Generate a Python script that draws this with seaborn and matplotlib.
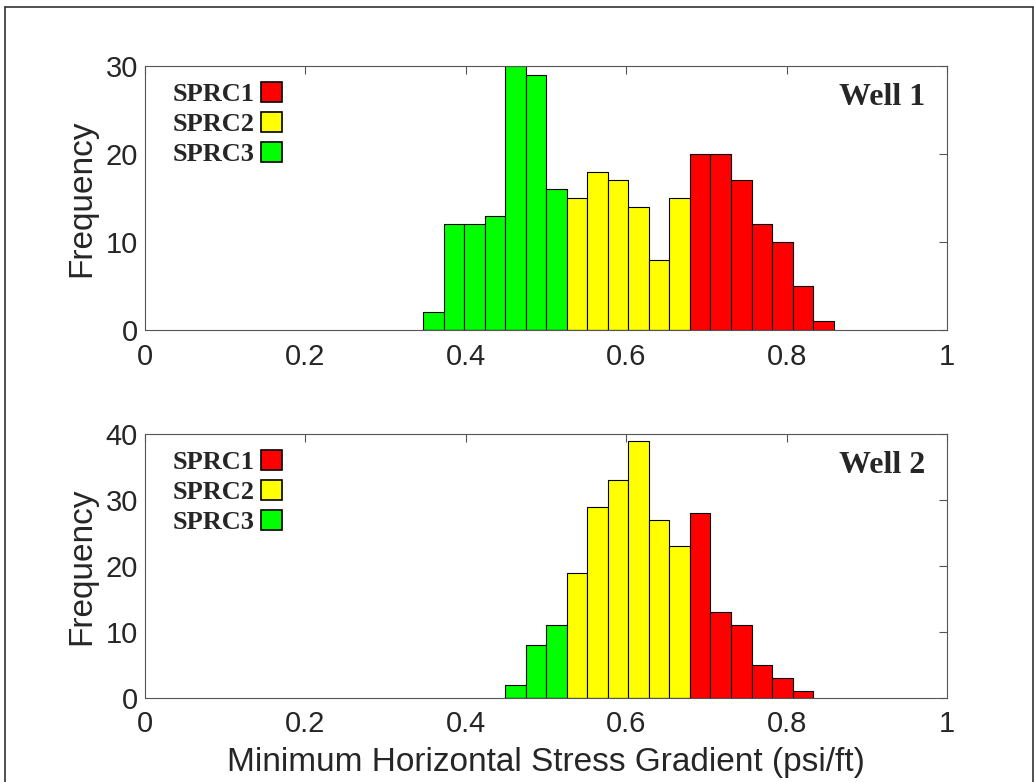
import pandas as pd
import matplotlib.pyplot as plt
import seaborn as sns
from matplotlib.patches import Patch
from matplotlib.lines import Line2D

# Histogram counts (MATLAB-style hist, common bin width)
bin_width = 0.0256
w1_start = 0.3467
w1_counts = [2, 12, 12, 13, 30, 29, 16,
             15, 18, 17, 14, 8, 15,
             20, 20, 17, 12, 10, 5, 1]
w1_class = ['SPRC3', 'SPRC3', 'SPRC3', 'SPRC3', 'SPRC3', 'SPRC3', 'SPRC3',
            'SPRC2', 'SPRC2', 'SPRC2', 'SPRC2', 'SPRC2', 'SPRC2',
            'SPRC1', 'SPRC1', 'SPRC1', 'SPRC1', 'SPRC1', 'SPRC1', 'SPRC1']

w2_start = 0.4491
w2_counts = [2, 8, 11,
             19, 29, 33, 39, 27, 23,
             28, 13, 11, 5, 3, 1]
w2_class = ['SPRC3', 'SPRC3', 'SPRC3',
            'SPRC2', 'SPRC2', 'SPRC2', 'SPRC2', 'SPRC2', 'SPRC2',
            'SPRC1', 'SPRC1', 'SPRC1', 'SPRC1', 'SPRC1', 'SPRC1']

classes = ['SPRC1', 'SPRC2', 'SPRC3']
colors = {'SPRC1': '#ff0000', 'SPRC2': '#ffff00', 'SPRC3': '#00ff00'}

sns.set_style('white')
plt.rcParams['font.family'] = ['Liberation Sans', 'DejaVu Sans']

fig = plt.figure(figsize=(10.34, 7.82), dpi=100)
ax1 = fig.add_axes([145 / 1034, 1 - 330 / 782, 802 / 1034, 264 / 782])
ax2 = fig.add_axes([145 / 1034, 1 - 698 / 782, 802 / 1034, 264 / 782])


def well_hist(ax, start, counts, cls, ymax, title):
    n = len(counts)
    edges = [start + i * bin_width for i in range(n + 1)]
    centers = [start + (i + 0.5) * bin_width for i in range(n)]
    df = pd.DataFrame({'grad': centers, 'count': counts, 'cls': cls})
    sns.histplot(data=df, x='grad', weights='count', bins=edges, hue='cls',
                 hue_order=classes, palette=colors, alpha=1, edgecolor='black',
                 linewidth=0.8, legend=False, ax=ax)
    ax.set_xlim(0, 1)
    ax.set_ylim(0, ymax)
    ax.set_xticks([0, 0.2, 0.4, 0.6, 0.8, 1])
    ax.set_xticklabels(['0', '0.2', '0.4', '0.6', '0.8', '1'])
    ax.set_yticks(range(0, ymax + 1, 10))
    ax.tick_params(direction='in', length=6, width=0.8, color='#555555',
                   top=True, right=True, labelsize=21)
    ax.tick_params(axis='x', pad=9)
    ax.tick_params(axis='y', pad=5)
    for s in ax.spines.values():
        s.set_color('#555555')
        s.set_linewidth(0.8)
        s.set_visible(True)
    ax.set_xlabel('')
    ax.set_ylabel('Frequency', fontsize=24, labelpad=6)
    handles = [Patch(facecolor=colors[c], edgecolor='black', linewidth=1.2) for c in classes]
    ax.legend(handles, classes, loc='upper left', bbox_to_anchor=(0.034, 0.94),
              markerfirst=False, frameon=False, borderpad=0, borderaxespad=0,
              handlelength=0.8, handleheight=0.8, handletextpad=0.25,
              labelspacing=0.22,
              prop={'family': 'Liberation Serif', 'weight': 'bold', 'size': 19})
    ax.text(0.973, 0.88, title, transform=ax.transAxes, ha='right', va='center',
            fontsize=23, fontweight='bold', family='Liberation Serif')


well_hist(ax1, w1_start, w1_counts, w1_class, 30, 'Well 1')
well_hist(ax2, w2_start, w2_counts, w2_class, 40, 'Well 2')
ax2.set_xlabel('Minimum Horizontal Stress Gradient (psi/ft)', fontsize=24, labelpad=6)

# figure frame (left, top, right)
for xs, ys in [([5 / 1034, 5 / 1034], [0, 1 - 7 / 782]),
               ([5 / 1034, 1033 / 1034], [1 - 7 / 782, 1 - 7 / 782]),
               ([1033 / 1034, 1033 / 1034], [0, 1 - 7 / 782])]:
    fig.add_artist(Line2D(xs, ys, color='#333333', linewidth=1.2,
                          transform=fig.transFigure))

fig.savefig('out.png', dpi=100)
